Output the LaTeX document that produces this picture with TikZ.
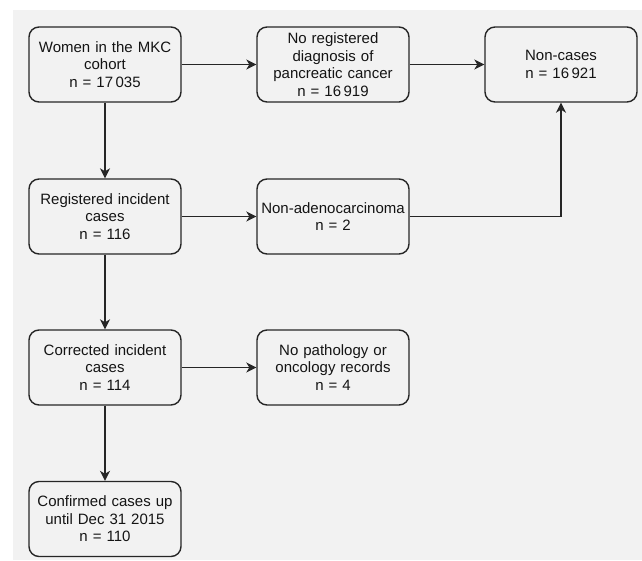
\documentclass[tikz,border=0pt]{standalone}
\usepackage{fontspec}
\setmainfont{Liberation Sans}
\usetikzlibrary{arrows.meta}

\definecolor{bggray}{HTML}{F2F2F2}
\definecolor{linegray}{HTML}{262626}

\tikzset{
	box/.style={draw=linegray, line width=1.4pt, rounded corners=10pt, fill=bggray,
		minimum width=152pt, minimum height=75pt, text width=149pt, inner sep=1.5pt,
		align=center, font=\fontsize{15}{17.6}\selectfont, text=black!92},
	link/.style={draw=linegray, line width=1.4pt, -{Stealth[length=10pt,width=10pt,inset=3pt]}}
}

\begin{document}
\begin{tikzpicture}[x=1pt, y=-1pt]
				\useasboundingbox (0,0) rectangle (642,560);
				\fill[bggray] (12.5,10) rectangle (642,560);
				
				\node[box] (women) at (105,64.5) {Women in the MKC\\cohort\\n = 17\,035};
				\node[box] (noreg) at (333,64.5) {No registered\\diagnosis of\\pancreatic cancer\\n = 16\,919};
				\node[box] (noncases) at (561,64.5) {Non-cases\\n = 16\,921};
				
				\node[box] (registered) at (105,216.5) {Registered incident\\cases\\n = 116};
				\node[box] (nonadeno) at (333,216.5) {Non-adenocarcinoma\\n = 2};
				
				\node[box] (corrected) at (105,367.5) {Corrected incident\\cases\\n = 114};
				\node[box] (nopath) at (333,367.5) {No pathology or\\oncology records\\n = 4};
				
				\node[box] (confirmed) at (105,519) {Confirmed cases up\\until Dec 31 2015\\n = 110};
				
				\draw[link] (women) -- (noreg);
				\draw[link] (noreg) -- (noncases);
				\draw[link] (women) -- (registered);
				\draw[link] (registered) -- (nonadeno);
				\draw[link] (nonadeno) -| (noncases);
				\draw[link] (registered) -- (corrected);
				\draw[link] (corrected) -- (nopath);
				\draw[link] (corrected) -- (confirmed);
				\end{tikzpicture}
\end{document}
